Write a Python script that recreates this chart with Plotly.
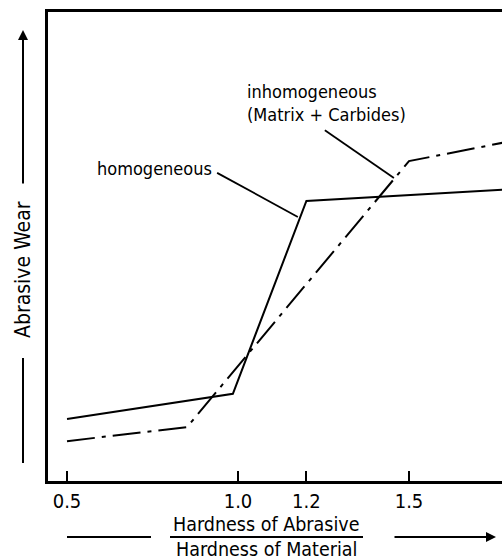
import plotly.graph_objects as go

# Data (ratio of hardness vs relative abrasive wear, arbitrary units)
hom_x = [0.5, 0.985, 1.2, 1.8]
hom_y = [13.2, 18.6, 59.7, 62.2]
inh_x = [0.5, 0.851, 1.5, 1.8]
inh_y = [8.5, 11.5, 68.2, 72.5]
tick_vals = [0.5, 1.0, 1.2, 1.5]
tick_text = ["0.5", "1.0", "1.2", "1.5"]

FONT = "DejaVu Sans Condensed, Liberation Sans Narrow, DejaVu Sans, sans-serif"

fig = go.Figure()
fig.add_trace(go.Scatter(x=hom_x, y=hom_y, mode="lines", name="homogeneous",
                         line=dict(color="black", width=2)))
fig.add_trace(go.Scatter(x=inh_x, y=inh_y, mode="lines", name="inhomogeneous",
                         line=dict(color="black", width=2, dash="28px,7px,4px,7px")))

W, H = 502, 560
L, R, T, B = 48, 0, 12, 79
pw, ph = W - L - R, H - T - B

def px(x):
    return (x - L) / pw

def py(y):
    return (H - B - y) / ph

fig.update_layout(
    width=W, height=H,
    margin=dict(l=L, r=R, t=T, b=B),
    paper_bgcolor="white", plot_bgcolor="white",
    showlegend=False,
    font=dict(family=FONT, color="black", size=18),
    xaxis=dict(range=[0.4444, 1.772], tickvals=tick_vals, ticktext=tick_text,
               ticks="inside", ticklen=10, tickwidth=2, tickcolor="black",
               showline=True, linewidth=2.5, linecolor="black", mirror=True,
               showgrid=False, zeroline=False,
               tickfont=dict(family=FONT, size=20, color="black")),
    yaxis=dict(range=[0, 100], showticklabels=False, ticks="",
               showline=True, linewidth=2.5, linecolor="black", mirror=False,
               showgrid=False, zeroline=False),
)

# curve labels
fig.add_annotation(x=0.582, y=66.7, xref="x", yref="y", text="homogeneous",
                   showarrow=False, xanchor="left", yanchor="middle",
                   font=dict(size=18))
fig.add_annotation(x=1.02, y=80.5, xref="x", yref="y",
                   text="inhomogeneous<br>(Matrix + Carbides)",
                   showarrow=False, xanchor="left", yanchor="middle", align="left",
                   font=dict(size=18))
# leader lines
fig.add_shape(type="line", xref="x", yref="y", x0=0.939, y0=65.7, x1=1.175, y1=56.3,
              line=dict(color="black", width=1.8))
fig.add_shape(type="line", xref="x", yref="y", x0=1.254, y0=74.8, x1=1.456, y1=64.6,
              line=dict(color="black", width=1.8))

# y axis label with arrow
fig.add_annotation(x=px(23), y=py(270), xref="paper", yref="paper",
                   xanchor="center", yanchor="middle",
                   text="Abrasive Wear", textangle=-90, showarrow=False,
                   font=dict(size=21))
fig.add_annotation(x=px(23), y=py(30), xref="paper", yref="paper", text="",
                   showarrow=True, ax=0, ay=155, arrowhead=2, arrowsize=1,
                   arrowwidth=2, arrowcolor="black")
fig.add_shape(type="line", xref="paper", yref="paper",
              x0=px(23), x1=px(23), y0=py(358), y1=py(463),
              line=dict(color="black", width=2))

# x axis label (fraction) with arrow
fig.add_annotation(x=px(266), y=py(524), xref="paper", yref="paper",
                   xanchor="center", yanchor="middle",
                   text="Hardness of Abrasive", showarrow=False, font=dict(size=19.5))
fig.add_annotation(x=px(266), y=py(549), xref="paper", yref="paper",
                   xanchor="center", yanchor="middle",
                   text="Hardness of Material", showarrow=False, font=dict(size=19.5))
fig.add_shape(type="line", xref="paper", yref="paper",
              x0=px(170), x1=px(363), y0=py(537), y1=py(537),
              line=dict(color="black", width=2))
fig.add_shape(type="line", xref="paper", yref="paper",
              x0=px(67), x1=px(151), y0=py(537), y1=py(537),
              line=dict(color="black", width=2))
fig.add_annotation(x=px(496), y=py(537), xref="paper", yref="paper", text="",
                   showarrow=True, ax=-103, ay=0, arrowhead=2, arrowsize=1,
                   arrowwidth=2, arrowcolor="black")

fig.write_html("out.html", config={"displayModeBar": False},
               post_script="document.body.style.margin='0';document.body.style.overflow='hidden';")
